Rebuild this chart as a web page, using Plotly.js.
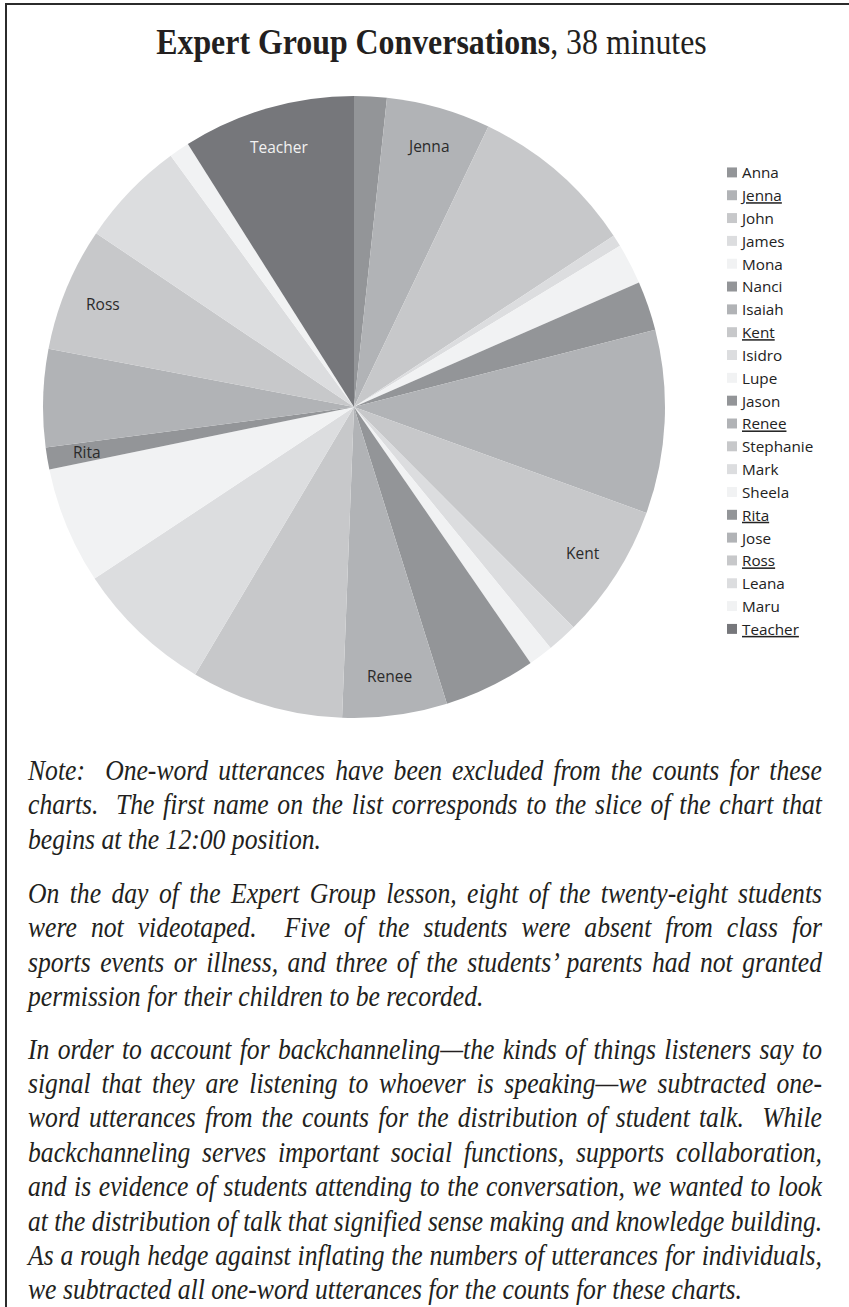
<!DOCTYPE html>
<html>
<head>
<meta charset="utf-8">
<script src="https://cdn.plot.ly/plotly-3.0.1.min.js"></script>
<style>
html,body{margin:0;padding:0;background:#fff;}
#page{position:relative;width:849px;height:1307px;overflow:hidden;background:#fff;}
#chart{position:absolute;left:0;top:0;width:849px;height:745px;}
.bt{position:absolute;left:5px;top:3px;width:844px;height:2px;background:#2b2b2b;}
.bl{position:absolute;left:5px;top:3px;width:2px;height:1304px;background:#2b2b2b;}
.para{position:absolute;left:28px;width:3000px;
      font-family:"Liberation Serif","Times New Roman",serif;font-style:italic;font-size:30px;line-height:34.6px;color:#231f20;}
.para div{text-align:justify;text-align-last:justify;white-space:nowrap;transform-origin:0 0;}
.para div.last{text-align-last:left;}
.measuring .para div{text-align:left;text-align-last:left;}
</style>
</head>
<body>
<div id="page" class="measuring">
  <div id="chart"></div>
  <div class="bt"></div>
  <div class="bl"></div>
  <div class="para" style="top:752.7px;">
    <div><span>Note:&nbsp; One-word utterances have been excluded from the counts for these</span></div>
    <div><span>charts.&nbsp; The first name on the list corresponds to the slice of the chart that</span></div>
    <div class="last"><span>begins at the 12:00 position.</span></div>
  </div>
  <div class="para" style="top:875.7px;">
    <div><span>On the day of the Expert Group lesson, eight of the twenty-eight students</span></div>
    <div><span>were not videotaped.&nbsp; Five of the students were absent from class for</span></div>
    <div><span>sports events or illness, and three of the students’ parents had not granted</span></div>
    <div class="last"><span>permission for their children to be recorded.</span></div>
  </div>
  <div class="para" style="top:1031.5px;line-height:34.4px;">
    <div><span>In order to account for backchanneling—the kinds of things listeners say to</span></div>
    <div><span>signal that they are listening to whoever is speaking—we subtracted one-</span></div>
    <div><span>word utterances from the counts for the distribution of student talk.&nbsp; While</span></div>
    <div><span>backchanneling serves important social functions, supports collaboration,</span></div>
    <div><span>and is evidence of students attending to the conversation, we wanted to look</span></div>
    <div><span>at the distribution of talk that signified sense making and knowledge building.</span></div>
    <div><span>As a rough hedge against inflating the numbers of utterances for individuals,</span></div>
    <div class="last"><span>we subtracted all one-word utterances for the counts for these charts.</span></div>
  </div>
</div>
<script>
// Speakers in order, starting at the 12:00 position, clockwise
const names = ['Anna','Jenna','John','James','Mona','Nanci','Isaiah','Kent','Isidro','Lupe','Jason',
               'Renee','Stephanie','Mark','Sheela','Rita','Jose','Ross','Leana','Maru','Teacher'];
// Estimated share of utterances (%)
const values = [1.69,5.42,8.61,0.61,2.11,2.56,9.53,7.00,1.58,1.28,4.78,
                5.44,7.92,7.17,6.08,1.14,5.08,6.44,5.53,1.06,8.97];
// Names labelled on the pie (and underlined in the legend)
const labeled = ['Jenna','Kent','Renee','Rita','Ross','Teacher'];

const shades = ['#939598','#b1b3b6','#c7c8ca','#dcdddf','#f1f2f3'];
const teacherShade = '#76777b';
const colors = names.map((n,i) => n === 'Teacher' ? teacherShade : shades[i % shades.length]);
const legendLabels = names.map(n => labeled.includes(n) ? '<u>' + n + '</u>' : n);

// Justified note text: each line is condensed only as much as it needs to fill the column.
function fitNotes() {
  const target = 794;
  const divs = Array.from(document.querySelectorAll('.para div'));
  const widths = divs.map(d => d.querySelector('span').getBoundingClientRect().width);
  const sMax = 0.95 * target / widths[0];
  document.getElementById('page').classList.remove('measuring');
  divs.forEach((d, i) => {
    const s = d.classList.contains('last') ? sMax : Math.min(sMax, target / widths[i]) * 0.999;
    d.style.width = (target / s) + 'px';
    d.style.transform = 'scaleX(' + s + ')';
  });
}
fitNotes();

const W = 849, H = 745;
const dom = {x:[43/W, 665/W], y:[27/H, 649/H]};
const R = Math.min(W*(dom.x[1]-dom.x[0]), H*(dom.y[1]-dom.y[0]))/2;
const cx = (dom.x[0]+dom.x[1])/2, cy = (dom.y[0]+dom.y[1])/2;
const total = values.reduce((a,b)=>a+b,0);

const annotations = [];
let cum = 0;
names.forEach((n,i) => {
  const v = values[i];
  if (labeled.includes(n)) {
    const th = (cum + v/2)/total*2*Math.PI;
    annotations.push({
      xref:'paper', yref:'paper', showarrow:false, xanchor:'center', yanchor:'middle',
      x: cx + 0.872*R*Math.sin(th)/W,
      y: cy + 0.872*R*Math.cos(th)/H,
      text: n,
      font:{family:'Open Sans, sans-serif', size:15.5, color: n === 'Teacher' ? '#f2f2f2' : '#2b2b2b'}
    });
  }
  cum += v;
});

const trace = {
  type:'pie',
  labels: legendLabels,
  values: values,
  sort:false,
  direction:'clockwise',
  rotation:0,
  textinfo:'none',
  hoverinfo:'skip',
  marker:{colors:colors, line:{width:0}},
  domain: dom
};

const titleX = 431.5;
const layout = {
  width:W, height:H,
  margin:{l:0,r:0,t:0,b:0},
  paper_bgcolor:'rgba(0,0,0,0)',
  plot_bgcolor:'rgba(0,0,0,0)',
  showlegend:true,
  title:{
    text:'<b>Expert Group Conversations</b>, 38 minutes',
    font:{family:'Liberation Serif, Times New Roman, serif', size:35, color:'#231f20'},
    xref:'container', yref:'container', x:titleX/W, xanchor:'center', y:1-42/H, yanchor:'middle'
  },
  legend:{
    x:(742-40)/W, xanchor:'left', y:1-(172-16)/H, yanchor:'top',
    font:{family:'Open Sans, sans-serif', size:15.25, color:'#222'},
    bgcolor:'rgba(0,0,0,0)', traceorder:'normal'
  },
  annotations: annotations
};

Plotly.newPlot('chart', [trace], layout, {displayModeBar:false, staticPlot:true}).then(() => {
  // smaller legend swatches placed closer to the names, as in the original
  document.querySelectorAll('#chart .legendpie').forEach(p => {
    p.setAttribute('transform', 'translate(30,0) scale(0.83)');
  });
  // condensed title face, as in the original
  const t = document.querySelector('#chart .gtitle');
  if (t) t.setAttribute('transform', 'translate(' + titleX + ',0) scale(0.91,1) translate(' + (-titleX) + ',0)');
});
</script>
</body>
</html>
